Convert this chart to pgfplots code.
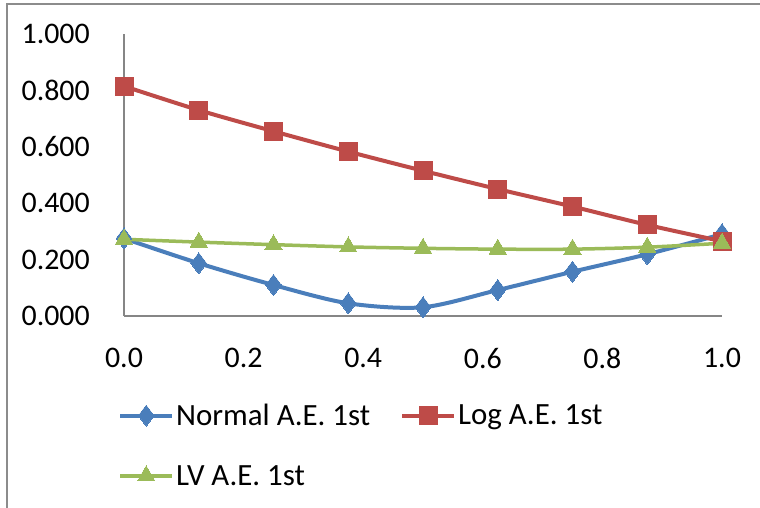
\documentclass[border=0pt]{standalone}
\usepackage{fontspec}
\setmainfont{Carlito}
\usepackage{pgfplots}
\pgfplotsset{compat=1.18}
\definecolor{xblue}{HTML}{4A7EBB}
\definecolor{xred}{HTML}{BE4B48}
\definecolor{xgreen}{HTML}{9BBB59}
\definecolor{xaxis}{HTML}{868686}
\definecolor{xborder}{HTML}{8C8C8C}
\begin{document}
\begin{tikzpicture}[x=1bp,y=1bp]
\useasboundingbox (0,0) rectangle (760,508);
\draw[xborder, line width=1.5bp] (7,-2) -- (7,504) -- (762,504);
\begin{axis}[
  at={(124bp,192bp)}, anchor=south west,
  scale only axis, width=598bp, height=282bp,
  xmin=0, xmax=1, ymin=0, ymax=1,
  axis lines*=left,
  axis line style={xaxis, line width=1.2bp},
  major tick length=0pt,
  xtick={0,0.2,0.4,0.6,0.8,1.0},
  ytick={0,0.2,0.4,0.6,0.8,1.0},
  /pgf/number format/assume math mode=true,
  xticklabel style={font=\fontsize{30}{35}\selectfont, inner sep=0pt, anchor=north, yshift=-32bp,
    /pgf/number format/.cd, fixed, fixed zerofill, precision=1},
  yticklabel style={font=\fontsize{30}{35}\selectfont, inner sep=0pt, anchor=east, xshift=-34bp,
    /pgf/number format/.cd, fixed, fixed zerofill, precision=3},
  clip=false,
  legend columns=2,
  legend cell align=left,
  legend style={at={(-0.010,-0.305)}, anchor=north west, draw=none, fill=none,
    font=\fontsize{31}{36}\selectfont, inner sep=0pt, row sep=34bp,
    nodes={inner sep=2bp},
    /tikz/every even column/.append style={column sep=28bp}},
  legend image code/.code={\draw[mark repeat=2,mark phase=2,#1] plot coordinates {(0bp,0bp) (26bp,0bp) (52bp,0bp)};},
]
\addplot[xblue, line width=4bp, smooth, mark=diamond*, mark size=10.5bp, mark options={solid, fill=xblue, draw=xblue, line width=0pt}] coordinates {
(0,0.275) (0.125,0.187) (0.25,0.110) (0.375,0.045) (0.5,0.031) (0.625,0.092) (0.75,0.157) (0.875,0.219) (1.0,0.290)};
\addlegendentry{Normal A.E. 1st}
\addplot[xred, line width=4bp, smooth, mark=square*, mark size=9bp, mark options={solid, fill=xred, draw=xred, line width=0pt}] coordinates {
(0,0.815) (0.125,0.730) (0.25,0.655) (0.375,0.583) (0.5,0.515) (0.625,0.450) (0.75,0.388) (0.875,0.323) (1.0,0.265)};
\addlegendentry{Log A.E. 1st}
\addplot[xgreen, line width=3.5bp, smooth, mark=triangle*, mark size=10bp, mark options={solid, fill=xgreen, draw=xgreen, line width=0pt}] coordinates {
(0,0.272) (0.125,0.262) (0.25,0.253) (0.375,0.245) (0.5,0.240) (0.625,0.237) (0.75,0.237) (0.875,0.244) (1.0,0.258)};
\addlegendentry{LV A.E. 1st}
\end{axis}
\end{tikzpicture}
\end{document}
